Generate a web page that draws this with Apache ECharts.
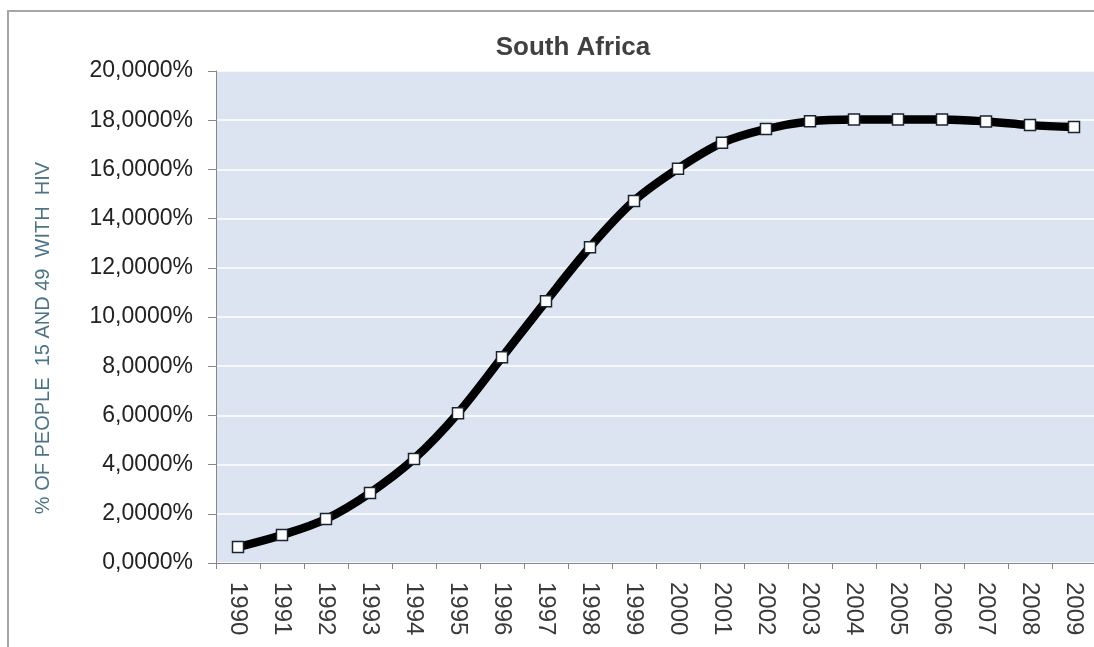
<!DOCTYPE html>
<html>
<head>
<meta charset="utf-8">
<style>
html,body{margin:0;padding:0;background:#fff;}
#chart{width:1094px;height:647px;}
</style>
<script src="https://cdn.jsdelivr.net/npm/echarts@6/dist/echarts.min.js"></script>
</head>
<body>
<div id="chart"></div>
<script>
var titleText = 'South Africa';
var yAxisTitle = '% OF PEOPLE  15 AND 49  WITH  HIV';
var years = ['1990','1991','1992','1993','1994','1995','1996','1997','1998','1999',
             '2000','2001','2002','2003','2004','2005','2006','2007','2008','2009'];
var hivPercent = [0.65, 1.14, 1.79, 2.85, 4.23, 6.09, 8.36, 10.64, 12.84, 14.72,
                  16.03, 17.08, 17.64, 17.96, 18.03, 18.03, 18.03, 17.95, 17.80, 17.72];
var yTicks = [0, 2, 4, 6, 8, 10, 12, 14, 16, 18, 20];

var chart = echarts.init(document.getElementById('chart'), null, {renderer:'canvas'});
chart.setOption({
  animation:false,
  backgroundColor:'#ffffff',
  title:{
    text:titleText, left:568, top:30, textAlign:'center',
    textStyle:{fontFamily:'Liberation Sans, Arial, sans-serif', fontSize:26, fontWeight:'bold', color:'#404040'}
  },
  graphic:[
    {type:'rect', shape:{x:8, y:11, width:1100, height:660},
     style:{fill:'none', stroke:'#a6a6a6', lineWidth:2}, z:-10},
    {type:'text', x:43, y:338, rotation:Math.PI/2,
     style:{text:yAxisTitle, fill:'#4d7486', font:'20px "Liberation Sans", Arial, sans-serif',
            textAlign:'center', textVerticalAlign:'middle'}}
  ],
  grid:{left:216, top:71, right:-2, bottom:84, show:true, backgroundColor:'#dbe4f0', borderWidth:0,
        outerBoundsMode:'none', containLabel:false},
  xAxis:{
    type:'category', data:years, boundaryGap:true,
    axisLine:{lineStyle:{color:'#868686', width:1}},
    axisTick:{show:true, length:6, lineStyle:{color:'#868686'}},
    axisLabel:{rotate:-90, margin:19, color:'#3a3a3a', fontSize:24,
               fontFamily:'Liberation Sans, Arial, sans-serif', interval:0}
  },
  yAxis:{
    type:'value', min:0, max:20, interval:2,
    axisLine:{show:true, lineStyle:{color:'#868686', width:1}},
    axisTick:{show:true, length:8, lineStyle:{color:'#868686'}},
    axisLabel:{margin:23, color:'#222222', fontSize:23,
               fontFamily:'Liberation Sans, Arial, sans-serif',
               formatter:function(v){ return v.toFixed(4).replace('.', ',') + '%'; }},
    splitLine:{show:true, lineStyle:{color:'#ffffff', width:1.5}}
  },
  series:[{
    type:'line', data:hivPercent, smooth:0.35,
    lineStyle:{color:'#000000', width:8.5},
    symbol:'rect', symbolSize:11,
    itemStyle:{color:'#ffffff', borderColor:'#1a2430', borderWidth:1.5},
    z:3
  }]
});
</script>
</body>
</html>
